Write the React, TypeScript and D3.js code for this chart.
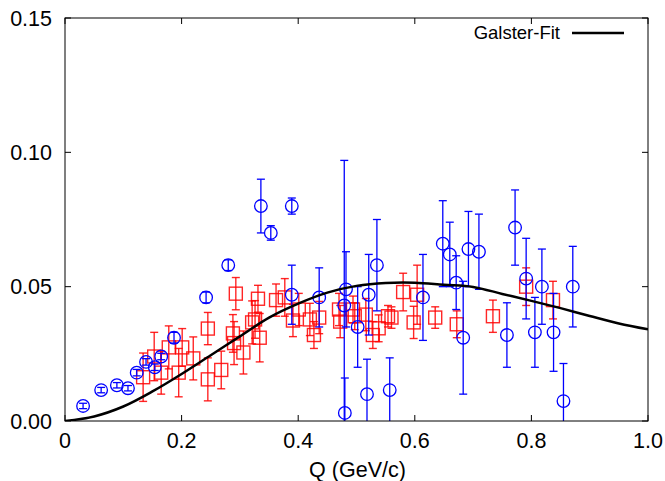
import React from "react";
import * as d3 from "d3";

// Blue circles: [Q, G, err]
const blueQ = [0.031,0.062,0.089,0.108,0.123,0.139,0.154,0.165,0.187,0.242,0.280,0.336,0.353,0.389,0.389,0.436,0.479,0.482,0.480,0.502,0.518,0.521,0.535,0.557,0.614,0.648,0.660,0.671,0.683,0.692,0.710,0.758,0.772,0.791,0.806,0.818,0.838,0.855,0.871];
const blueG = [0.0056,0.0115,0.0133,0.0122,0.018,0.022,0.020,0.024,0.031,0.046,0.058,0.080,0.070,0.080,0.047,0.046,0.043,0.049,0.003,0.035,0.010,0.047,0.058,0.0115,0.046,0.066,0.062,0.0515,0.031,0.064,0.063,0.032,0.072,0.053,0.033,0.050,0.033,0.0074,0.050];
const blueErr = [0.001,0.001,0.001,0.001,0.0012,0.0012,0.0012,0.0012,0.002,0.002,0.002,0.010,0.0027,0.003,0.011,0.011,0.054,0.014,0.013,0.015,0.013,0.015,0.017,0.012,0.016,0.016,0.012,0.010,0.021,0.014,0.014,0.012,0.014,0.015,0.013,0.014,0.0145,0.014,0.015];

// Red squares
const redQ = [0.134,0.153,0.165,0.178,0.195,0.201,0.220,0.245,0.245,0.268,0.288,0.290,0.293,0.306,0.321,0.326,0.331,0.334,0.362,0.377,0.391,0.401,0.420,0.427,0.436,0.470,0.472,0.494,0.497,0.516,0.528,0.538,0.554,0.560,0.580,0.598,0.604,0.635,0.672,0.734,0.791,0.837];
const redG = [0.0163,0.024,0.018,0.0274,0.018,0.0274,0.0233,0.0344,0.0155,0.019,0.0326,0.029,0.0474,0.0255,0.0367,0.0378,0.0455,0.031,0.045,0.046,0.0374,0.0415,0.0378,0.032,0.0385,0.0415,0.037,0.0415,0.039,0.0396,0.032,0.0345,0.039,0.0385,0.048,0.0367,0.047,0.0385,0.036,0.039,0.050,0.045];
const redErr = [0.009,0.009,0.008,0.008,0.009,0.007,0.008,0.006,0.008,0.007,0.007,0.008,0.006,0.008,0.008,0.007,0.005,0.009,0.006,0.007,0.006,0.006,0.006,0.005,0.006,0.006,0.006,0.005,0.005,0.006,0.005,0.005,0.004,0.004,0.007,0.006,0.011,0.004,0.005,0.006,0.007,0.007];

// Galster fit curve
const fitQ = [0,0.05,0.1,0.15,0.2,0.25,0.3,0.35,0.4,0.45,0.5,0.55,0.6,0.65,0.7,0.75,0.8,0.85,0.9,0.95,1.0];
const fitG = [0,0.0017,0.0054,0.011,0.0175,0.0245,0.0315,0.0385,0.0437,0.0478,0.0503,0.0514,0.0515,0.0507,0.0499,0.0473,0.0447,0.0420,0.0391,0.0363,0.0341];

const xTicks = [0, 0.2, 0.4, 0.6, 0.8, 1.0];
const xTickLabels = ["0", "0.2", "0.4", "0.6", "0.8", "1.0"];
const yTicks = [0, 0.05, 0.1, 0.15];
const yTickLabels = ["0.00", "0.05", "0.10", "0.15"];

const W = 665, H = 481;
const L = 65, R = 648, T = 18, B = 421;
const FONT = "'Liberation Sans', Arial, Helvetica, sans-serif";

export default function App() {
  const x = d3.scaleLinear().domain([0, 1]).range([L, R]);
  const y = d3.scaleLinear().domain([0, 0.15]).range([B, T]);
  const line = d3.line<number>().x((_, i) => x(fitQ[i])).y((d) => y(d)).curve(d3.curveCatmullRom);
  const cap = 4;
  const tick = 6;

  return (
    <svg width={W} height={H} style={{ position: "absolute", left: 0, top: 0 }} fontFamily={FONT}>
      <defs>
        <clipPath id="plot"><rect x={L} y={T} width={R - L} height={B - T} /></clipPath>
      </defs>
      <rect x={0} y={0} width={W} height={H} fill="white" />
      <g clipPath="url(#plot)">
        {redQ.map((q, i) => {
          const cx = x(q), cy = y(redG[i]);
          const y1 = y(redG[i] + redErr[i]), y2 = y(redG[i] - redErr[i]);
          return (
            <g key={"r" + i} stroke="#ff0000" strokeOpacity={0.85} fill="none" strokeWidth={1.4}>
              <line x1={cx} x2={cx} y1={y1} y2={y2} />
              <line x1={cx - cap} x2={cx + cap} y1={y1} y2={y1} />
              <line x1={cx - cap} x2={cx + cap} y1={y2} y2={y2} />
              <rect x={cx - 6.5} y={cy - 6.5} width={13} height={13} />
            </g>
          );
        })}
        {blueQ.map((q, i) => {
          const cx = x(q), cy = y(blueG[i]);
          const y1 = y(blueG[i] + blueErr[i]), y2 = y(blueG[i] - blueErr[i]);
          return (
            <g key={"b" + i} stroke="#0000ff" fill="none" strokeWidth={1.3}>
              <line x1={cx} x2={cx} y1={y1} y2={y2} />
              <line x1={cx - cap} x2={cx + cap} y1={y1} y2={y1} />
              <line x1={cx - cap} x2={cx + cap} y1={y2} y2={y2} />
              <circle cx={cx} cy={cy} r={6.3} />
            </g>
          );
        })}
        <path d={line(fitG) || ""} fill="none" stroke="black" strokeWidth={2.5} />
      </g>
      <rect x={L} y={T} width={R - L} height={B - T} fill="none" stroke="black" strokeWidth={1} />
      {xTicks.map((t, i) => (
        <g key={"xt" + i}>
          <line x1={x(t)} x2={x(t)} y1={B} y2={B - tick} stroke="black" />
          <line x1={x(t)} x2={x(t)} y1={T} y2={T + tick} stroke="black" />
          <text x={x(t)} y={B + 27} textAnchor="middle" fontSize={21.5} fill="black">{xTickLabels[i]}</text>
        </g>
      ))}
      {yTicks.map((t, i) => (
        <g key={"yt" + i}>
          <line x1={L} x2={L + tick} y1={y(t)} y2={y(t)} stroke="black" />
          <line x1={R} x2={R - tick} y1={y(t)} y2={y(t)} stroke="black" />
          <text x={L - 13} y={y(t) + 7.5} textAnchor="end" fontSize={21.5} fill="black">{yTickLabels[i]}</text>
        </g>
      ))}
      <text x={(L + R) / 2 + 1} y={477} textAnchor="middle" fontSize={21.5} fill="black">Q (GeV/c)</text>
      <text x={560} y={39} textAnchor="end" fontSize={18.5} fill="black">Galster-Fit</text>
      <line x1={572} x2={624} y1={33} y2={33} stroke="black" strokeWidth={2.5} />
    </svg>
  );
}
